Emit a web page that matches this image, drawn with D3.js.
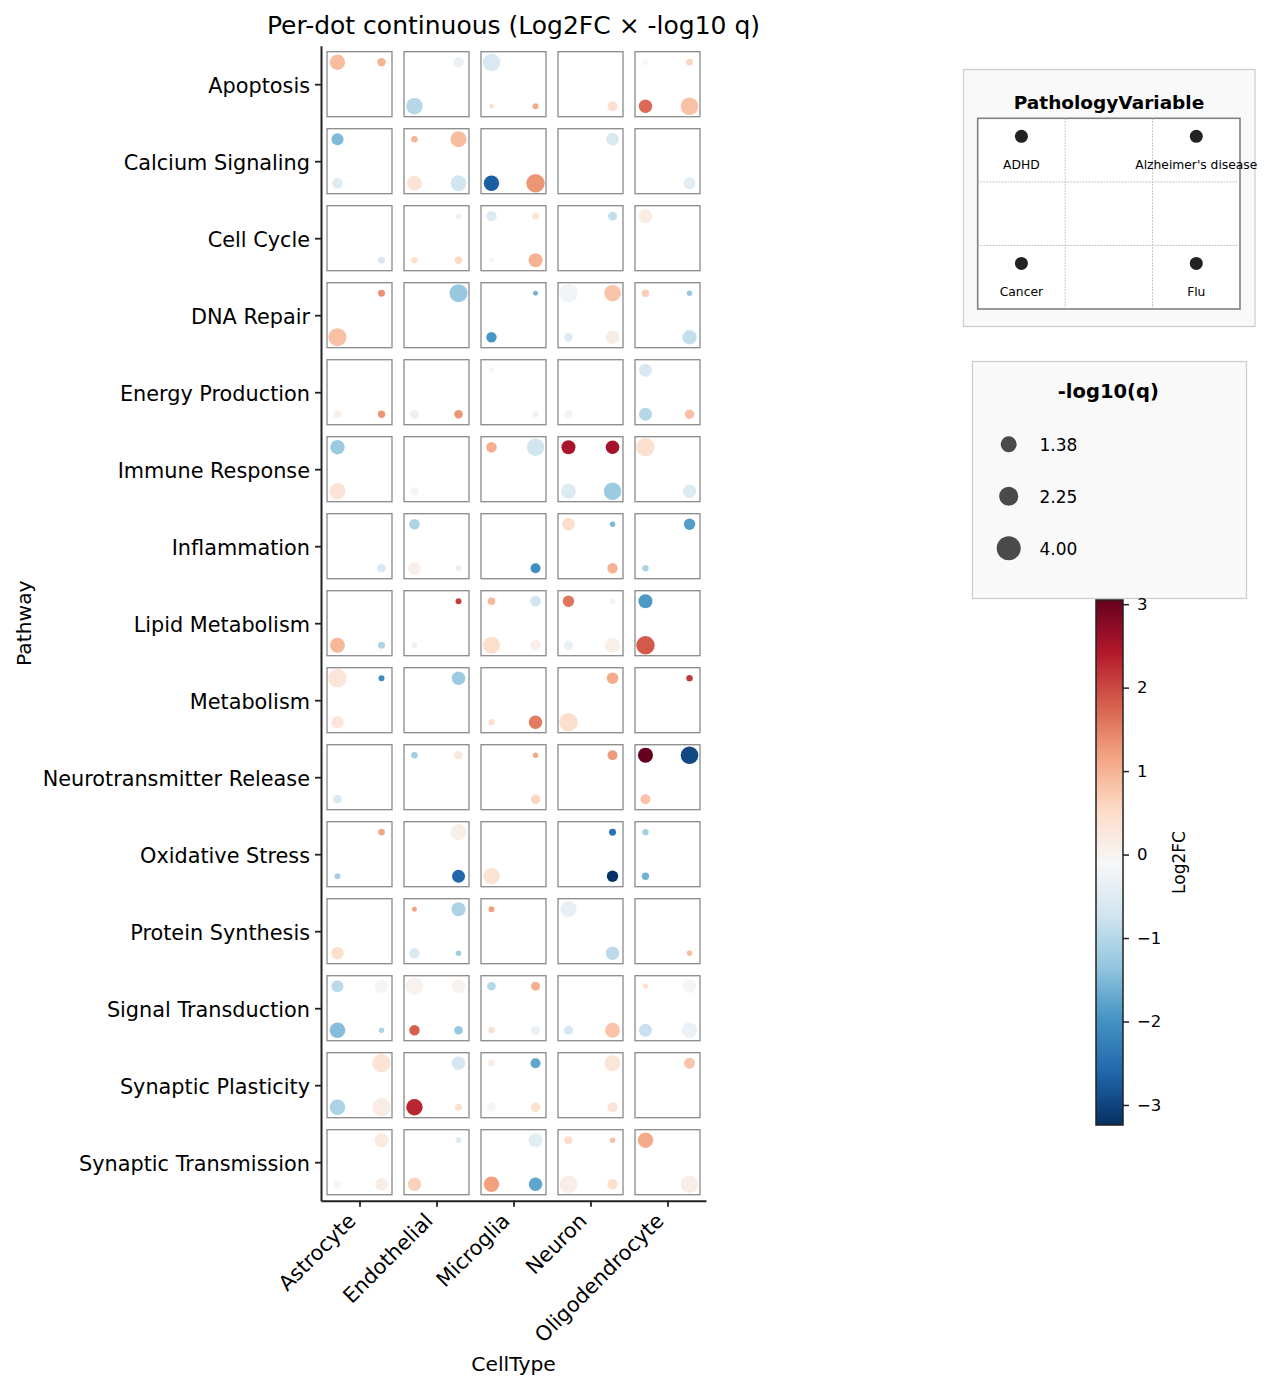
<!DOCTYPE html>
<html>
<head>
<meta charset="utf-8">
<script src="https://cdn.jsdelivr.net/npm/d3@7/dist/d3.min.js"></script>
<style>
  html, body { margin: 0; padding: 0; background: #ffffff; }
  svg { display: block; font-family: "DejaVu Sans", sans-serif; }
</style>
</head>
<body>
<svg id="chart" width="1276" height="1390"></svg>
<script>
// ---------------- DATA ----------------
const pathways = ["Apoptosis","Calcium Signaling","Cell Cycle","DNA Repair","Energy Production",
  "Immune Response","Inflammation","Lipid Metabolism","Metabolism","Neurotransmitter Release",
  "Oxidative Stress","Protein Synthesis","Signal Transduction","Synaptic Plasticity","Synaptic Transmission"];
const cellTypes = ["Astrocyte","Endothelial","Microglia","Neuron","Oligodendrocyte"];
const pathologies = ["ADHD","Alzheimer's disease","Cancer","Flu"];

// rows = pathways, columns = cell types
const adhdLog2FC = [
  [0.9, null, -0.6, null, -0.1],
  [-1.5, 1.0, null, null, null],
  [null, null, -0.55, null, 0.15],
  [null, null, null, -0.2, 0.7],
  [null, null, -0.1, null, -0.6],
  [-1.25, null, 1.05, 2.5, 0.4],
  [null, -1.1, null, 0.45, null],
  [null, null, 0.95, 1.6, -1.9],
  [0.3, null, null, null, null],
  [null, -1.2, null, null, 3.05],
  [null, null, null, null, -1.15],
  [null, 1.2, 1.2, -0.35, null],
  [-0.95, 0.02, -1.0, null, 0.45],
  [null, null, 0.15, null, null],
  [null, null, null, 0.5, 1.1]
];
const adhdNegLog10Q = [
  [3.11, null, 3.71, null, 1.43],
  [2.33, 1.47, null, null, null],
  [null, null, 2.03, null, 2.77],
  [null, null, null, 4.02, 1.59],
  [null, null, 1.38, null, 2.54],
  [2.86, null, 2.07, 2.77, 3.95],
  [null, 2.07, null, 2.46, null],
  [null, null, 1.61, 2.22, 2.77],
  [3.95, null, null, null, null],
  [null, 1.47, null, null, 3.01],
  [null, null, null, null, 1.47],
  [null, 1.34, 1.43, 3.37, null],
  [2.33, 3.66, 1.75, null, 1.36],
  [null, null, 1.50, null, null],
  [null, null, null, 1.67, 3.11]
];
const alzLog2FC = [
  [1.0, -0.3, null, null, 0.6],
  [null, 0.9, null, -0.6, null],
  [null, -0.3, 0.35, -0.85, null],
  [1.35, -1.3, -1.6, 0.8, -1.3],
  [null, null, null, null, null],
  [null, null, -0.7, 2.55, null],
  [null, null, null, -1.5, -1.85],
  [null, 2.1, -0.7, -0.2, null],
  [-2.1, -1.25, null, 1.1, 2.15],
  [null, 0.25, 1.1, 1.25, -2.95],
  [1.15, 0.1, null, -2.45, null],
  [null, -1.1, null, null, null],
  [-0.05, 0.02, 1.05, null, -0.15],
  [0.35, -0.65, -1.75, 0.3, 0.8],
  [0.2, -0.55, -0.45, 0.85, null]
];
const alzNegLog10Q = [
  [1.72, 2.07, null, null, 1.50],
  [null, 3.27, null, 2.46, null],
  [null, 1.39, 1.54, 1.81, null],
  [1.54, 3.83, 1.34, 3.43, 1.38],
  [null, null, null, null, null],
  [null, null, 3.66, 2.67, null],
  [null, null, null, 1.39, 2.22],
  [null, 1.43, 2.07, 1.39, null],
  [1.43, 2.67, null, 2.25, 1.47],
  [null, 1.75, 1.38, 1.97, 3.71],
  [1.50, 3.37, null, 1.54, null],
  [null, 2.77, null, null, null],
  [2.63, 2.67, 1.81, null, 2.63],
  [3.95, 2.67, 1.97, 3.27, 2.14],
  [2.77, 1.43, 2.77, 1.39, null]
];
const cancerLog2FC = [
  [null, -1.0, 0.5, null, 1.7],
  [-0.5, 0.35, -2.7, null, null],
  [null, 0.45, -0.05, null, null],
  [0.85, null, -1.95, -0.55, null],
  [0.1, -0.3, null, -0.2, -1.0],
  [0.35, -0.15, null, -0.55, null],
  [null, 0.1, null, null, -1.1],
  [0.95, -0.35, 0.45, -0.35, 1.85],
  [0.3, null, 0.45, 0.45, null],
  [-0.6, null, null, null, 0.8],
  [-1.15, null, 0.35, null, -1.6],
  [0.45, -0.6, null, null, null],
  [-1.45, 1.8, 0.45, -0.65, -0.8],
  [-1.1, 2.3, -0.05, null, null],
  [-0.05, 0.65, 1.2, 0.12, null]
];
const cancerNegLog10Q = [
  [null, 3.43, 1.31, null, 2.63],
  [2.07, 3.01, 3.11, null, null],
  [null, 1.50, 1.34, null, null],
  [3.83, null, 2.03, 1.72, null],
  [1.61, 1.81, null, 1.67, 2.54],
  [3.37, 1.67, null, 3.01, null],
  [null, 2.46, null, null, 1.47],
  [3.01, 1.38, 3.54, 1.87, 3.95],
  [2.41, null, 1.47, 4.02, null],
  [1.75, null, null, null, 1.97],
  [1.43, null, 3.43, null, 1.59],
  [2.41, 2.03, null, null, null],
  [3.16, 2.03, 1.47, 1.81, 2.54],
  [3.16, 3.37, 1.87, null, null],
  [1.61, 2.63, 3.11, 3.66, null]
];
const fluLog2FC = [
  [null, null, 1.1, 0.45, 0.85],
  [null, -0.7, 1.3, null, -0.45],
  [-0.6, 0.55, 1.0, null, null],
  [null, null, null, 0.15, -0.85],
  [1.3, 1.3, -0.3, null, 0.85],
  [null, null, null, -1.25, -0.55],
  [-0.6, -0.35, -2.05, 1.0, null],
  [-1.05, null, 0.1, 0.1, null],
  [null, null, 1.55, null, null],
  [null, null, 0.6, null, null],
  [null, -2.6, null, -3.2, null],
  [null, -1.2, null, -0.95, 0.9],
  [-1.1, -1.3, -0.35, 0.8, -0.3],
  [0.15, 0.4, 0.45, 0.35, null],
  [0.15, null, -1.75, 0.45, 0.12]
];
const fluNegLog10Q = [
  [null, null, 1.43, 1.97, 3.71],
  [null, 3.27, 3.95, null, 2.33],
  [1.54, 1.61, 2.77, null, null],
  [null, null, null, 2.67, 2.86],
  [1.59, 1.75, 1.43, null, 1.87],
  [null, null, null, 3.66, 2.63],
  [1.75, 1.43, 1.97, 2.03, null],
  [1.54, null, 2.07, 3.01, null],
  [null, null, 2.63, null, null],
  [null, null, 1.87, null, null],
  [null, 2.54, null, 2.22, null],
  [null, 1.39, null, 2.63, 1.39],
  [1.38, 1.75, 1.81, 3.01, 3.16],
  [3.95, 1.54, 1.87, 1.97, null],
  [2.46, null, 2.63, 2.03, 3.71]
];

const log2fcMin = -3.24, log2fcMax = 3.05;
const colorbarTicks = [-3, -2, -1, 0, 1, 2, 3];
const sizeLegendValues = [1.38, 2.25, 4.00];
const sizeDomain = [1.3, 4.0];

// ---------------- SETUP ----------------
const fcTables = [adhdLog2FC, alzLog2FC, cancerLog2FC, fluLog2FC];
const qTables = [adhdNegLog10Q, alzNegLog10Q, cancerNegLog10Q, fluNegLog10Q];
const quadrant = [[-1, -1], [1, -1], [-1, 1], [1, 1]]; // TL, TR, BL, BR

const dots = [];
pathologies.forEach((p, k) => {
  pathways.forEach((pw, i) => {
    cellTypes.forEach((ct, j) => {
      const fc = fcTables[k][i][j];
      if (fc !== null && fc !== undefined) {
        dots.push({ pathology: p, k, pathway: pw, cell: ct, fc, q: qTables[k][i][j] });
      }
    });
  });
});

const svg = d3.select("#chart");
const FONT = '"DejaVu Sans", sans-serif';

const x = d3.scalePoint().domain(cellTypes).range([321, 706]).padding(0.5);
const y = d3.scalePoint().domain(pathways).range([45.7, 1200.7]).padding(0.5);
const step = x.step();

const rdbuR = ["#053061","#2166ac","#4393c3","#92c5de","#d1e5f0","#f7f7f7",
               "#fddbc7","#f4a582","#d6604d","#b2182b","#67001f"];
const color = d3.scaleLinear()
  .domain(d3.range(11).map(i => log2fcMin + i * (log2fcMax - log2fcMin) / 10))
  .range(rdbuR).interpolate(d3.interpolateRgb).clamp(true);

const area = d3.scaleLinear().domain(sizeDomain).range([5, 86]).clamp(true);
const radius = v => Math.sqrt(area(v));

// ---------------- TITLE ----------------
svg.append("text")
  .attr("x", (x.range()[0] + x.range()[1]) / 2).attr("y", 34)
  .attr("text-anchor", "middle").attr("font-size", 25).attr("fill", "#000")
  .text("Per-dot continuous (Log2FC \u00d7 -log10 q)");

// ---------------- CELL BOXES ----------------
const half = step * 0.422;
const cellsG = svg.append("g");
pathways.forEach(pw => {
  cellTypes.forEach(ct => {
    cellsG.append("rect")
      .attr("x", x(ct) - half).attr("y", y(pw) - half)
      .attr("width", 2 * half).attr("height", 2 * half)
      .attr("fill", "#ffffff").attr("stroke", "#8a8a8a").attr("stroke-width", 1.3);
  });
});

// ---------------- DOTS ----------------
const off = step * 0.286;
svg.append("g").selectAll("circle").data(dots).join("circle")
  .attr("cx", d => x(d.cell) + quadrant[d.k][0] * off)
  .attr("cy", d => y(d.pathway) + quadrant[d.k][1] * off)
  .attr("r", d => radius(d.q))
  .attr("fill", d => color(d.fc));

// ---------------- AXES ----------------
const yAxis = svg.append("g").attr("transform", `translate(${x.range()[0]},0)`)
  .call(d3.axisLeft(y).tickSize(6).tickPadding(5).tickSizeOuter(0));
const xAxis = svg.append("g").attr("transform", `translate(0,${y.range()[1]})`)
  .call(d3.axisBottom(x).tickSize(6).tickPadding(5).tickSizeOuter(0));

[yAxis, xAxis].forEach(a => {
  a.select(".domain").attr("stroke", "#222").attr("stroke-width", 2);
  a.selectAll(".tick line").attr("stroke", "#222").attr("stroke-width", 1.8);
  a.selectAll(".tick text").attr("fill", "#000").attr("font-size", 20.8).attr("font-family", FONT);
});
yAxis.selectAll(".tick text").attr("dy", "0.4em");
xAxis.selectAll(".tick text")
  .attr("x", 0).attr("y", 0).attr("dy", null)
  .attr("text-anchor", "end")
  .attr("transform", "translate(-3,21.5) rotate(-45)");

svg.append("text")
  .attr("transform", `translate(31,${(y.range()[0] + y.range()[1]) / 2}) rotate(-90)`)
  .attr("text-anchor", "middle").attr("font-size", 20.3).attr("fill", "#000")
  .text("Pathway");
svg.append("text")
  .attr("x", (x.range()[0] + x.range()[1]) / 2).attr("y", 1371)
  .attr("text-anchor", "middle").attr("font-size", 20.3).attr("fill", "#000")
  .text("CellType");

// ---------------- PATHOLOGY LEGEND ----------------
const lg = svg.append("g");
lg.append("rect").attr("x", 963.5).attr("y", 69.5).attr("width", 291.5).attr("height", 257)
  .attr("fill", "#f9f9f9").attr("stroke", "#cccccc").attr("stroke-width", 1.2);
lg.append("text").attr("x", 1109).attr("y", 109.3).attr("text-anchor", "middle")
  .attr("font-size", 18.5).attr("font-weight", "bold").attr("fill", "#000")
  .text("PathologyVariable");
const lx = d3.scaleLinear().domain([0, 3]).range([977.7, 1240]);
const ly = d3.scaleLinear().domain([0, 3]).range([118.3, 309]);
lg.append("rect").attr("x", lx(0)).attr("y", ly(0))
  .attr("width", lx(3) - lx(0)).attr("height", ly(3) - ly(0))
  .attr("fill", "#ffffff").attr("stroke", "#808080").attr("stroke-width", 1.6);
[1, 2].forEach(i => {
  lg.append("line").attr("x1", lx(i)).attr("x2", lx(i)).attr("y1", ly(0)).attr("y2", ly(3))
    .attr("stroke", "#aaaaaa").attr("stroke-width", 0.9).attr("stroke-dasharray", "1.5,1.5");
  lg.append("line").attr("y1", ly(i)).attr("y2", ly(i)).attr("x1", lx(0)).attr("x2", lx(3))
    .attr("stroke", "#aaaaaa").attr("stroke-width", 0.9).attr("stroke-dasharray", "1.5,1.5");
});
const legendCell = [[0, 0], [2, 0], [0, 2], [2, 2]];
pathologies.forEach((p, k) => {
  const cx = (lx(legendCell[k][0]) + lx(legendCell[k][0] + 1)) / 2;
  const top = ly(legendCell[k][1]);
  lg.append("circle").attr("cx", cx).attr("cy", top + 18).attr("r", 6.5).attr("fill", "#222222");
  lg.append("text").attr("x", cx).attr("y", top + 50.5).attr("text-anchor", "middle")
    .attr("font-size", 12.3).attr("fill", "#000").text(p);
});

// ---------------- SIZE LEGEND ----------------
const sg = svg.append("g");
sg.append("rect").attr("x", 972.5).attr("y", 361.5).attr("width", 274).attr("height", 237)
  .attr("fill", "#f9f9f9").attr("stroke", "#cccccc").attr("stroke-width", 1.2);
sg.append("text").attr("x", 1108.3).attr("y", 397.7).attr("text-anchor", "middle")
  .attr("font-size", 19.5).attr("font-weight", "bold").attr("fill", "#000")
  .text("-log10(q)");
const legArea = d3.scaleLinear().domain([1.38, 4.0]).range([64, 144]);
const legY = d3.scalePoint().domain(sizeLegendValues).range([444.3, 548.3]);
sizeLegendValues.forEach(v => {
  sg.append("circle").attr("cx", 1008.7).attr("cy", legY(v)).attr("r", Math.sqrt(legArea(v)))
    .attr("fill", "#4a4a4a");
  sg.append("text").attr("x", 1039.5).attr("y", legY(v) + 6.3)
    .attr("font-size", 17).attr("fill", "#000").text(v.toFixed(2));
});

// ---------------- COLORBAR ----------------
const cbX = 1096, cbW = 27;
const cbY = d3.scaleLinear().domain([log2fcMin, log2fcMax]).range([1125, 600]);
const defs = svg.append("defs");
const grad = defs.append("linearGradient").attr("id", "cbgrad")
  .attr("x1", 0).attr("y1", 1).attr("x2", 0).attr("y2", 0);
rdbuR.forEach((c, i) => grad.append("stop").attr("offset", i / 10).attr("stop-color", c));
svg.append("rect").attr("x", cbX).attr("y", cbY(log2fcMax)).attr("width", cbW)
  .attr("height", cbY(log2fcMin) - cbY(log2fcMax)).attr("fill", "url(#cbgrad)");
const cbAxis = svg.append("g").attr("transform", `translate(${cbX + cbW},0)`)
  .call(d3.axisRight(cbY).tickValues(colorbarTicks).tickSize(6).tickPadding(8)
    .tickFormat(d => d < 0 ? "\u2212" + Math.abs(d) : String(d)));
cbAxis.select(".domain").remove();
cbAxis.selectAll(".tick line").attr("stroke", "#222").attr("stroke-width", 1.5);
cbAxis.selectAll(".tick text").attr("font-size", 16.5).attr("font-family", FONT).attr("fill", "#000");
svg.append("rect").attr("x", cbX).attr("y", cbY(log2fcMax)).attr("width", cbW)
  .attr("height", cbY(log2fcMin) - cbY(log2fcMax))
  .attr("fill", "none").attr("stroke", "#222").attr("stroke-width", 1.5);
svg.append("text")
  .attr("transform", `translate(1185,${(cbY(log2fcMin) + cbY(log2fcMax)) / 2}) rotate(-90)`)
  .attr("text-anchor", "middle").attr("font-size", 17).attr("fill", "#000")
  .text("Log2FC");
</script>
</body>
</html>
